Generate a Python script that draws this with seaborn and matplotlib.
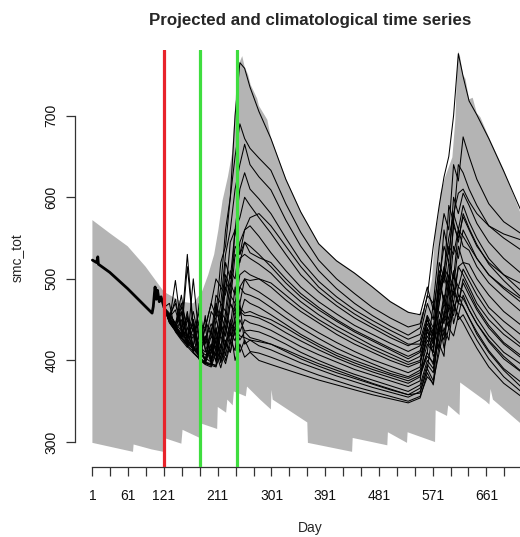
import numpy as np
import pandas as pd
import matplotlib
matplotlib.use("Agg")
import matplotlib.pyplot as plt
import seaborn as sns

# ---------------- data ----------------
obs_days = [1, 8, 10, 11, 30, 60, 90, 101, 103, 105, 106, 108, 110, 113, 116, 121]
obs_vals = [523, 520, 527, 518, 508, 488, 466, 458, 466, 483, 490, 475, 486, 472, 478, 465]

env_up_days = [1, 30, 60, 90, 115, 121, 150, 170, 185, 195, 205, 212, 219, 228, 235, 240, 244, 248, 252,
               256, 262, 266, 277, 280, 294, 300, 325, 350, 380, 410, 440, 470, 500, 530, 545, 560,
               570, 575, 580, 584, 592, 604, 609, 612, 614, 617, 622, 626, 632, 638, 645, 651,
               665, 690, 701, 718, 730]
env_up_vals = [572, 556, 540, 515, 490, 484, 472, 470, 485, 505, 530, 560, 596, 625, 654, 711, 752, 766, 773,
               760, 750, 738, 721, 712, 695, 673, 623, 583, 544, 523, 508, 491, 473, 460, 456, 462,
               500, 556, 575, 605, 625, 649, 695, 760, 779, 772, 750, 745, 720, 722, 703, 698,
               674, 634, 613, 581, 566]

env_lo_days = [1, 69, 70, 100, 120, 121, 150, 152, 181, 182, 210, 211, 225, 227, 236, 238, 258, 260,
               282, 300, 301, 303, 361, 362, 436, 437, 495, 496, 528, 529, 575, 576, 595, 597, 616,
               617, 660, 666, 668, 672, 718, 730]
env_lo_vals = [299, 288, 297, 291, 288, 305, 298, 315, 305, 323, 316, 343, 336, 352, 345, 362, 356, 368,
               352, 340, 364, 352, 324, 299, 288, 305, 296, 312, 299, 312, 300, 339, 332, 345, 333,
               373, 350, 346, 365, 352, 323, 320]

proj_days = [121, 130, 140, 150, 160, 170, 180, 190, 200, 208, 216, 224, 232, 240, 248, 256, 265,
             280, 300, 325, 350, 380, 410, 440, 470, 500, 530, 550, 562, 572, 582, 590, 598, 606,
             614, 622, 632, 645, 665, 690, 730]

m01 = [465, 455, 470, 440, 452, 436, 445, 440, 470, 500, 490, 560, 600, 700, 765, 758, 735,
       705, 672, 622, 582, 543, 522, 507, 490, 472, 459, 456, 490, 462, 510, 495, 540, 530,
       560, 552, 540, 525, 505, 488, 465]
m02 = [465, 458, 445, 460, 428, 450, 415, 440, 470, 455, 520, 540, 600, 650, 690, 672, 660,
       648, 633, 592, 557, 523, 500, 482, 465, 452, 441, 445, 478, 540, 590, 625, 650, 700,
       776, 748, 718, 701, 672, 632, 565]
m03 = [465, 450, 475, 438, 430, 460, 425, 450, 430, 480, 470, 530, 560, 610, 640, 665, 640,
       625, 609, 572, 540, 510, 488, 470, 455, 442, 431, 440, 480, 470, 540, 580, 560, 640,
       620, 674, 650, 622, 592, 570, 550]
m04 = [465, 448, 438, 466, 425, 418, 450, 420, 460, 450, 490, 480, 545, 560, 610, 630, 610,
       598, 580, 550, 522, 497, 478, 462, 449, 437, 426, 432, 470, 450, 520, 500, 590, 570,
       640, 630, 610, 590, 565, 550, 530]
m05 = [465, 452, 440, 430, 515, 440, 412, 430, 410, 470, 440, 500, 480, 560, 575, 600, 590,
       575, 556, 530, 505, 484, 467, 452, 440, 428, 418, 425, 455, 440, 500, 540, 520, 600,
       580, 605, 590, 568, 545, 525, 500]
m06 = [465, 446, 436, 428, 450, 415, 408, 425, 445, 430, 470, 460, 510, 500, 545, 560, 565,
       552, 532, 510, 490, 472, 457, 443, 432, 421, 411, 418, 450, 430, 490, 560, 530, 580,
       560, 590, 570, 550, 525, 505, 478]
m07 = [465, 455, 445, 470, 440, 430, 460, 412, 408, 450, 430, 490, 470, 530, 520, 545, 540,
       530, 515, 495, 478, 462, 448, 435, 424, 413, 402, 410, 440, 425, 480, 510, 490, 570,
       545, 580, 562, 542, 518, 498, 470]
m08 = [465, 450, 438, 428, 420, 500, 425, 398, 440, 410, 460, 450, 495, 480, 525, 530, 525,
       518, 507, 488, 472, 456, 442, 430, 418, 408, 398, 405, 435, 420, 505, 470, 520, 500,
       560, 540, 535, 515, 495, 478, 453]
m09 = [465, 452, 442, 432, 455, 416, 410, 402, 430, 415, 455, 440, 480, 470, 505, 510, 505,
       500, 490, 474, 460, 446, 432, 420, 410, 400, 392, 398, 425, 410, 500, 470, 505, 490,
       540, 520, 518, 500, 480, 460, 437]
m10 = [465, 448, 498, 440, 421, 414, 405, 430, 396, 440, 415, 460, 440, 490, 470, 500, 490,
       484, 474, 460, 447, 434, 422, 411, 401, 393, 385, 392, 455, 420, 445, 480, 460, 505,
       490, 512, 498, 480, 458, 438, 413]
m11 = [465, 449, 437, 427, 418, 440, 403, 396, 420, 405, 445, 430, 470, 455, 490, 482, 480,
       475, 465, 452, 440, 427, 415, 405, 396, 387, 380, 388, 420, 410, 470, 510, 550, 580,
       605, 610, 595, 580, 565, 555, 545]
m12 = [465, 451, 441, 433, 425, 417, 470, 415, 398, 430, 410, 450, 430, 470, 455, 475, 470,
       465, 456, 444, 432, 420, 409, 400, 392, 384, 378, 385, 410, 470, 435, 470, 450, 490,
       470, 495, 480, 462, 440, 420, 397]
m13 = [465, 447, 436, 450, 417, 409, 402, 396, 420, 398, 440, 420, 450, 430, 460, 455, 455,
       452, 445, 434, 424, 413, 403, 394, 386, 379, 372, 380, 410, 395, 450, 430, 470, 510,
       480, 476, 462, 445, 423, 402, 380]
m14 = [465, 453, 443, 480, 430, 418, 410, 403, 398, 425, 402, 440, 422, 455, 435, 450, 446,
       443, 437, 427, 417, 407, 398, 389, 382, 375, 368, 375, 440, 405, 420, 455, 440, 462,
       480, 466, 452, 435, 412, 390, 367]
m15 = [465, 450, 439, 429, 420, 440, 404, 398, 396, 394, 445, 406, 435, 424, 450, 436, 437,
       435, 429, 420, 410, 400, 391, 383, 376, 369, 362, 370, 400, 390, 430, 480, 444, 470,
       450, 456, 442, 425, 402, 380, 355]
m16 = [465, 448, 438, 428, 419, 411, 430, 397, 395, 440, 397, 420, 410, 440, 425, 435, 428,
       425, 420, 411, 402, 393, 385, 378, 371, 364, 358, 366, 395, 385, 440, 455, 500, 480,
       515, 520, 505, 488, 465, 448, 425]
m17 = [465, 452, 441, 431, 422, 414, 406, 455, 396, 393, 420, 400, 425, 412, 470, 420, 425,
       418, 413, 405, 397, 389, 381, 374, 367, 361, 355, 362, 390, 440, 415, 460, 440, 485,
       470, 500, 485, 465, 443, 422, 400]
m18 = [465, 449, 437, 427, 440, 410, 403, 397, 394, 392, 410, 396, 420, 450, 410, 425, 411,
       409, 404, 397, 390, 382, 375, 368, 362, 356, 350, 356, 380, 372, 450, 415, 440, 430,
       455, 446, 432, 415, 392, 372, 350]
m19 = [465, 456, 446, 436, 530, 440, 413, 407, 410, 470, 450, 520, 500, 560, 530, 545, 532,
       526, 520, 500, 482, 465, 450, 437, 426, 415, 405, 412, 445, 430, 485, 515, 500, 565,
       550, 576, 560, 540, 520, 505, 490]
m20 = [465, 470, 435, 425, 416, 430, 401, 395, 392, 410, 391, 415, 440, 400, 420, 404, 410,
       400, 395, 389, 383, 376, 370, 364, 358, 353, 348, 354, 385, 370, 420, 405, 490, 445,
       470, 467, 452, 432, 410, 388, 360]
m21 = [465, 453, 462, 436, 428, 445, 418, 410, 435, 460, 445, 505, 490, 540, 530, 560, 575,
       580, 565, 540, 515, 490, 472, 457, 444, 432, 420, 420, 450, 435, 470, 505, 480, 540,
       525, 560, 545, 525, 505, 490, 470]
m22 = [465, 449, 440, 458, 424, 416, 408, 440, 402, 425, 445, 430, 470, 460, 490, 500, 498,
       500, 495, 480, 465, 450, 437, 425, 414, 404, 395, 400, 430, 415, 460, 445, 490, 470,
       515, 505, 490, 470, 450, 432, 410]
m23 = [465, 451, 443, 433, 424, 450, 409, 401, 415, 400, 430, 415, 445, 440, 465, 458, 460,
       455, 450, 440, 429, 417, 406, 397, 389, 382, 375, 382, 405, 398, 440, 425, 465, 455,
       490, 485, 470, 452, 430, 410, 390]
m24 = [465, 447, 437, 427, 460, 410, 402, 396, 394, 415, 398, 425, 410, 440, 430, 428, 425,
       423, 420, 413, 405, 396, 388, 380, 372, 365, 358, 360, 390, 375, 410, 440, 425, 470,
       455, 480, 462, 445, 425, 405, 380]

members = [m01, m02, m03, m04, m05, m06, m07, m08, m09, m10, m11, m12,
           m13, m14, m15, m16, m17, m18, m19, m20, m21, m22, m23, m24]

x_tick_values = list(range(1, 722, 30))
x_tick_shown = [1, 61, 121, 211, 301, 391, 481, 571, 661]
y_tick_values = [300, 400, 500, 600, 700]
start_day = 121
green_days = [182, 243]

# ---------------- plot ----------------
sns.set_style("white")
plt.rcParams["font.family"] = ["Liberation Sans", "DejaVu Sans"]

df = pd.DataFrame({
    "day": np.tile(proj_days, len(members)),
    "smc": np.concatenate([np.asarray(m, float) for m in members]),
    "member": np.repeat(np.arange(len(members)), len(proj_days)),
})

fig = plt.figure(figsize=(5.2, 5.37), dpi=100)
ax = fig.add_axes([75 / 520, 70 / 537, 470 / 520, 417 / 537])

poly_x = np.r_[env_up_days, env_lo_days[::-1]]
poly_y = np.r_[env_up_vals, env_lo_vals[::-1]]
ax.fill(poly_x, poly_y, color="#b4b4b4", lw=0, zorder=1)

sns.lineplot(data=df, x="day", y="smc", units="member", estimator=None,
             color="black", lw=0.75, ax=ax, legend=False, zorder=3)
sns.lineplot(x=obs_days, y=obs_vals, color="black", lw=2.0, ax=ax, zorder=4)

ax.axvline(start_day, color="#e8232b", lw=2.3, zorder=5)
for g in green_days:
    ax.axvline(g, color="#3fdd3f", lw=2.3, zorder=5)

ax.set_xlim(-28.16, 759.16)
ax.set_ylim(269.4, 780.5)

for s in ["top", "right"]:
    ax.spines[s].set_visible(False)
ax.spines["left"].set_bounds(300, 700)
ax.spines["bottom"].set_bounds(1, 721)
for s in ["left", "bottom"]:
    ax.spines[s].set_color("#333333")
    ax.spines[s].set_linewidth(0.9)

ax.set_xticks(x_tick_values)
ax.set_xticklabels([str(t) if t in x_tick_shown else "" for t in x_tick_values])
ax.set_yticks(y_tick_values)
ax.set_yticklabels([str(v) for v in y_tick_values])
ax.tick_params(axis="both", direction="out", length=6.2, width=0.9, color="#333333",
               labelsize=10, labelcolor="#111111", bottom=True, left=True)
ax.tick_params(axis="x", pad=10)
ax.tick_params(axis="y", pad=5.5)
plt.setp(ax.get_yticklabels(), rotation=90, va="center")

ax.set_xlabel("Day", fontsize=10)
ax.xaxis.set_label_coords(0.5, (467 - 528) / 417)
ax.xaxis.label.set_va("center")
ax.set_ylabel("smc_tot", fontsize=10)
ax.yaxis.set_label_coords((18 - 75) / 470, (467 - 258) / 417)
ax.yaxis.label.set_va("center")

ax.set_title("Projected and climatological time series", fontsize=12.2,
             fontweight="bold", y=(467 - 20) / 417, va="center", pad=0)

fig.savefig("out.png", dpi=100)
